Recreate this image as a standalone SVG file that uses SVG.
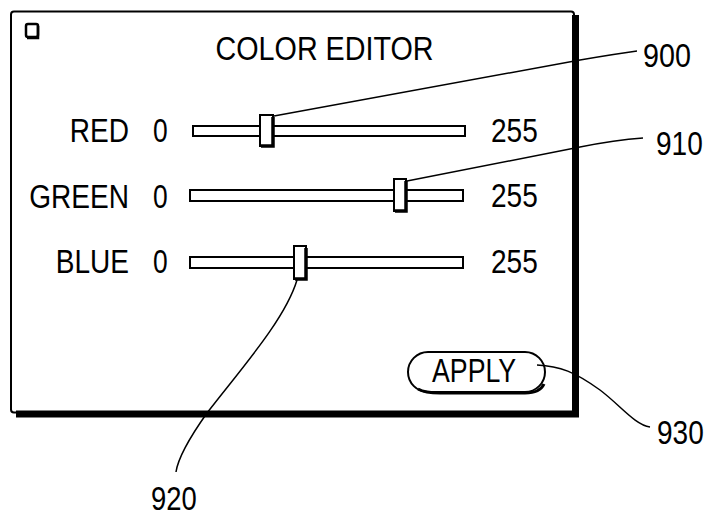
<svg xmlns="http://www.w3.org/2000/svg" width="708" height="517" viewBox="0 0 708 517">
<style>
text{font-family:"Liberation Sans",Arial,sans-serif;fill:#000;font-size:33px}
.ln{fill:none;stroke:#000;stroke-width:1.5}
.trk{fill:#fff;stroke:#000;stroke-width:2}
.th{fill:#fff;stroke:#000;stroke-width:2}
.sh{fill:none;stroke:#000;stroke-width:3.5}
</style>
<rect width="708" height="517" fill="#fff"/>
<g id="window">
<rect x="11" y="11.5" width="563" height="401" rx="3" fill="#fff" stroke="#000" stroke-width="2"/>
<path d="M575.5,15 V414 H16" fill="none" stroke="#000" stroke-width="7"/>
<rect x="26" y="24" width="12" height="13" rx="2" fill="#fff" stroke="#000" stroke-width="2.5"/>
<path d="M38,26 V38 H27" fill="none" stroke="#000" stroke-width="2.5"/>
<text transform="translate(324.5,60) scale(0.87,1)" text-anchor="middle" font-size="30">COLOR EDITOR</text>
</g>
<g id="red">
<text transform="translate(129,142) scale(0.85,1)" text-anchor="end">RED</text>
<text transform="translate(153,142) scale(0.8,1)">0</text>
<rect class="trk" x="193" y="126" width="272" height="10"/>
<rect class="th" x="260" y="115" width="13" height="31"/>
<path class="sh" d="M273,117 V146 H261"/>
<text transform="translate(491,142) scale(0.85,1)">255</text>
</g>
<g id="green">
<text transform="translate(129,208) scale(0.85,1)" text-anchor="end">GREEN</text>
<text transform="translate(153,208) scale(0.8,1)">0</text>
<rect class="trk" x="190" y="190" width="273" height="11"/>
<rect class="th" x="394" y="179" width="12" height="32"/>
<path class="sh" d="M406,181 V211 H395"/>
<text transform="translate(491,207) scale(0.85,1)">255</text>
</g>
<g id="blue">
<text transform="translate(129,273) scale(0.85,1)" text-anchor="end">BLUE</text>
<text transform="translate(153,273) scale(0.8,1)">0</text>
<rect class="trk" x="190" y="257" width="273" height="11"/>
<rect class="th" x="294" y="246" width="12" height="33"/>
<path class="sh" d="M306,248 V279 H295"/>
<text transform="translate(491,273) scale(0.85,1)">255</text>
</g>
<g id="apply">
<rect x="408" y="352" width="137" height="40" rx="20" fill="#fff" stroke="#000" stroke-width="2"/>
<path d="M418,389 Q425,393 440,393 H525 Q540,393 544,384" fill="none" stroke="#000" stroke-width="3"/>
<text transform="translate(432,382) scale(0.81,1)">APPLY</text>
</g>
<g id="connectors">
<path class="ln" d="M274,116 L580,60 Q615,54 637,51"/>
<path class="ln" d="M407,181 L580,147 Q615,140 643,138"/>
<path class="ln" d="M297,280 C285,320 240,370 207,413 C190,437 178,458 176,472"/>
<path class="ln" d="M537,365 C560,366 575,372 600,390 C620,405 635,425 650,427"/>
</g>
<g id="labels">
<text transform="translate(643,67) scale(0.87,1)">900</text>
<text transform="translate(656,155) scale(0.85,1)">910</text>
<text transform="translate(151,510) scale(0.83,1)">920</text>
<text transform="translate(657,444) scale(0.85,1)">930</text>
</g>
</svg>
